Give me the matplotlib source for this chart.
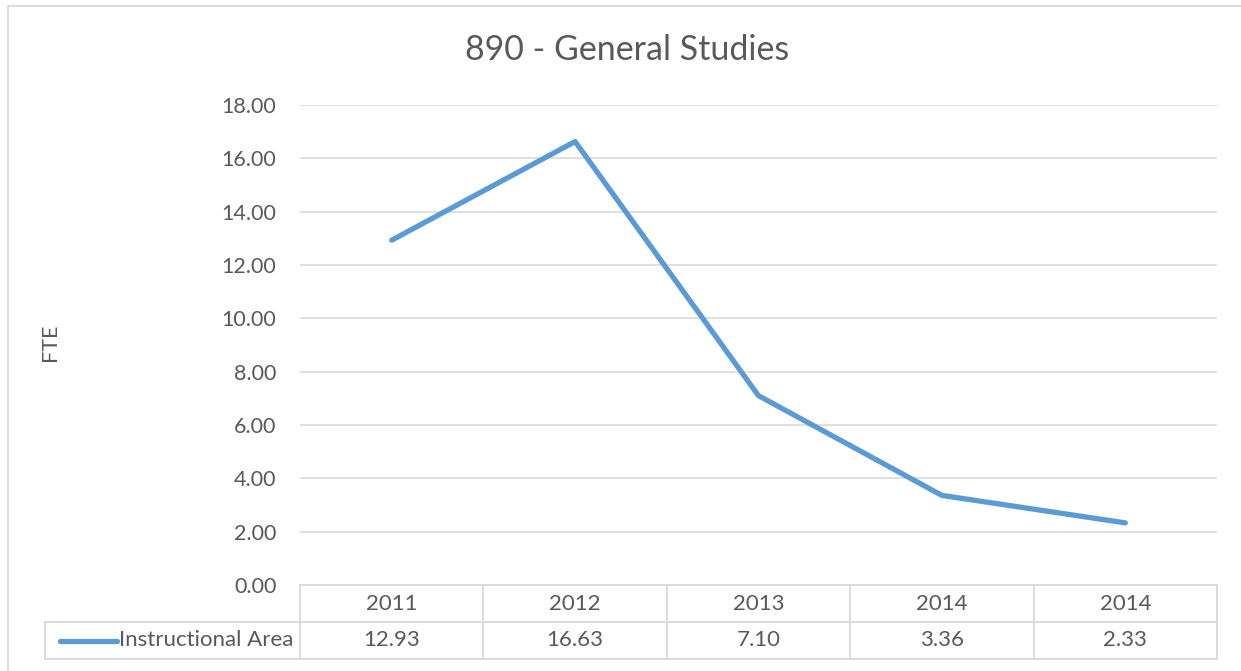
import matplotlib.pyplot as plt
from matplotlib.lines import Line2D

# Data
years = ['2011', '2012', '2013', '2014', '2014']
fte = [12.93, 16.63, 7.10, 3.36, 2.33]
series_name = 'Instructional Area'
yticks = [0, 2, 4, 6, 8, 10, 12, 14, 16, 18]

text_col = '#595959'
grid_col = '#d9d9d9'
line_col = '#5b9bd5'

plt.rcParams['font.family'] = ['Lato', 'DejaVu Sans']

W, H = 1241, 671
fig = plt.figure(figsize=(W / 100, H / 100), dpi=100)

# plot area in pixel coordinates
left, right, top, bottom = 300, 1217, 105, 585
ax = fig.add_axes([left / W, (H - bottom) / H, (right - left) / W, (bottom - top) / H])

x = list(range(len(years)))
ax.plot(x, fte, color=line_col, linewidth=3.8, solid_capstyle='round', solid_joinstyle='round', zorder=3)

ax.set_xlim(-0.5, len(years) - 0.5)
ax.set_ylim(0, 18)
ax.set_yticks(yticks)
ax.set_yticklabels([f'{v:.2f}' for v in yticks])
ax.set_xticks([])
ax.tick_params(axis='y', length=0, pad=17, labelsize=15.5, labelcolor=text_col)
ax.yaxis.grid(True, color=grid_col, linewidth=1.2)
ax.set_axisbelow(True)
for s in ax.spines.values():
    s.set_visible(False)

ax.set_ylabel('FTE', fontsize=15.5, color=text_col)
ax.yaxis.set_label_coords((60 - left) / (right - left), 0.505)
fig.text(627 / W, 1 - 50 / H, '890 - General Studies', ha='center', va='center',
         fontsize=24.5, color=text_col)

# data table below the plot area
row_h = 37
leg_left = 45
tsize = 16


def px_line(x0, y0, x1, y1):
    fig.add_artist(Line2D([x0 / W, x1 / W], [1 - y0 / H, 1 - y1 / H],
                          color=grid_col, linewidth=1.3))


col_w = (right - left) / len(years)
px_line(left, bottom, right, bottom)
px_line(leg_left, bottom + row_h, right, bottom + row_h)
px_line(leg_left, bottom + 2 * row_h, right, bottom + 2 * row_h)
px_line(leg_left, bottom + row_h, leg_left, bottom + 2 * row_h)
for i in range(len(years) + 1):
    xc = left + i * col_w
    px_line(xc, bottom, xc, bottom + 2 * row_h)

for i, (yr, v) in enumerate(zip(years, fte)):
    xc = (left + (i + 0.5) * col_w) / W
    fig.text(xc, 1 - (bottom + row_h / 2) / H, yr, ha='center', va='center',
             fontsize=tsize, color=text_col)
    fig.text(xc, 1 - (bottom + 1.5 * row_h) / H, f'{v:.2f}', ha='center', va='center',
             fontsize=tsize, color=text_col)

# legend key inside the table
ky = 1 - (bottom + 1.5 * row_h) / H
fig.add_artist(Line2D([60 / W, 117 / W], [ky, ky], color=line_col, linewidth=3.8,
                      solid_capstyle='round'))
fig.text(119 / W, ky, series_name, ha='left', va='center', fontsize=tsize, color=text_col)

# chart border
fig.add_artist(Line2D([8 / W, 8 / W], [0, 1 - 6 / H], color=grid_col, linewidth=1.3))
fig.add_artist(Line2D([8 / W, 1], [1 - 6 / H, 1 - 6 / H], color=grid_col, linewidth=1.3))

fig.savefig('out.png', dpi=100)
